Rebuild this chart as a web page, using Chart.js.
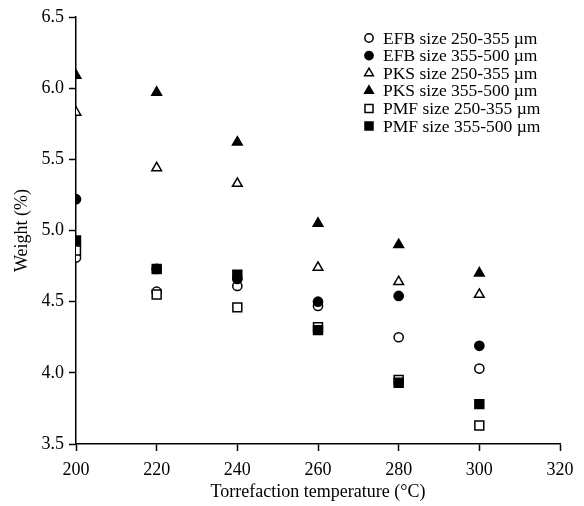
<!DOCTYPE html>
<html>
<head>
<meta charset="utf-8">
<script src="https://cdn.jsdelivr.net/npm/chart.js@4.4.1/dist/chart.umd.min.js"></script>
<style>
  html, body { margin: 0; padding: 0; background: #fff; }
  #wrap { width: 584px; height: 506px; }
</style>
</head>
<body>
<div id="wrap"><canvas id="myChart" width="584" height="506"></canvas></div>
<script>
// torrefaction temperatures (°C)
const temps = [200, 220, 240, 260, 280, 300];

// weight (%) per particle size
const efbSmall = [4.81, 4.57, 4.61, 4.47, 4.25, 4.03];
const efbLarge = [5.22, 4.73, 4.66, 4.50, 4.54, 4.19];
const pksSmall = [5.83, 5.44, 5.33, 4.74, 4.64, 4.55];
const pksLarge = [6.09, 5.97, 5.62, 5.05, 4.90, 4.70];
const pmfSmall = [4.86, 4.55, 4.46, 4.32, 3.95, 3.63];
const pmfLarge = [4.93, 4.73, 4.69, 4.30, 3.93, 3.78];

const seriesLabels = [
    "EFB size 250-355 \u00b5m",
    "EFB size 355-500 \u00b5m",
    "PKS size 250-355 \u00b5m",
    "PKS size 355-500 \u00b5m",
    "PMF size 250-355 \u00b5m",
    "PMF size 355-500 \u00b5m"
];
const seriesValues = [efbSmall, efbLarge, pksSmall, pksLarge, pmfSmall, pmfLarge];
const pointStyles = ["circle", "circle", "triangle", "triangle", "rect", "rect"];
const filled = [false, true, false, true, false, true];

const xTicks = [200, 220, 240, 260, 280, 300, 320];
const yTicks = [3.5, 4.0, 4.5, 5.0, 5.5, 6.0, 6.5];

const serif = "'Liberation Serif', 'Times New Roman', serif";

function markerRadius(style) {
    if (style === "rect") return 6.3;
    if (style === "triangle") return 5.6;
    return 4.6;
}

const datasets = seriesLabels.map(function (label, i) {
    return {
        label: label,
        data: temps.map(function (t, j) { return { x: t, y: seriesValues[i][j] }; }),
        pointStyle: pointStyles[i],
        pointRadius: markerRadius(pointStyles[i]),
        pointHoverRadius: markerRadius(pointStyles[i]),
        backgroundColor: filled[i] ? "#000" : "#fff",
        borderColor: "#000",
        borderWidth: 1.5,
        showLine: false,
        order: 6 - i // later series drawn on top
    };
});

// legend drawn inside the plot, top right
const insideLegend = {
    id: "insideLegend",
    afterDraw: function (chart) {
        const ctx = chart.ctx;
        const x0 = 369, y0 = 38, step = 17.6;
        ctx.save();
        ctx.font = "17.5px " + serif;
        ctx.textBaseline = "middle";
        chart.data.datasets.forEach(function (ds, i) {
            const y = y0 + i * step;
            ctx.lineWidth = ds.borderWidth;
            ctx.strokeStyle = ds.borderColor;
            ctx.fillStyle = ds.backgroundColor;
            Chart.helpers.drawPoint(ctx, {
                pointStyle: ds.pointStyle,
                rotation: 0,
                radius: ds.pointRadius * 0.9,
                borderWidth: ds.borderWidth
            }, x0, y);
            ctx.fillStyle = "#000";
            ctx.fillText(ds.label, x0 + 14, y + 1);
        });
        ctx.restore();
    }
};

new Chart(document.getElementById("myChart"), {
    type: "scatter",
    data: { datasets: datasets },
    options: {
        responsive: false,
        animation: false,
        layout: { padding: { top: 17, right: 24, left: 0, bottom: 0 } },
        plugins: {
            legend: { display: false },
            tooltip: { enabled: false }
        },
        scales: {
            x: {
                type: "linear",
                min: 200,
                max: 320,
                afterBuildTicks: function (scale) {
                    scale.ticks = xTicks.map(function (v) { return { value: v }; });
                },
                afterFit: function (scale) { scale.height = 62; },
                border: { color: "#000", width: 1.5 },
                grid: { drawOnChartArea: false, drawTicks: true, tickLength: 7, tickColor: "#000", tickWidth: 1.5 },
                ticks: { color: "#000", font: { family: serif, size: 18 }, padding: 8, maxRotation: 0 },
                title: { display: true, text: "Torrefaction temperature (\u00b0C)", color: "#000", font: { family: serif, size: 18 }, padding: { top: 0, bottom: 3 } }
            },
            y: {
                type: "linear",
                min: 3.5,
                max: 6.5,
                afterBuildTicks: function (scale) {
                    scale.ticks = yTicks.map(function (v) { return { value: v }; });
                },
                afterFit: function (scale) { scale.width = 76; },
                border: { color: "#000", width: 1.5 },
                grid: { drawOnChartArea: false, drawTicks: true, tickLength: 7, tickColor: "#000", tickWidth: 1.5 },
                ticks: {
                    color: "#000",
                    font: { family: serif, size: 18 },
                    padding: 5,
                    callback: function (v) { return Number(v).toFixed(1); }
                },
                title: { display: true, text: "Weight (%)", color: "#000", font: { family: serif, size: 18 }, padding: { top: 11, bottom: 0 } }
            }
        }
    },
    plugins: [insideLegend]
});
</script>
</body>
</html>
